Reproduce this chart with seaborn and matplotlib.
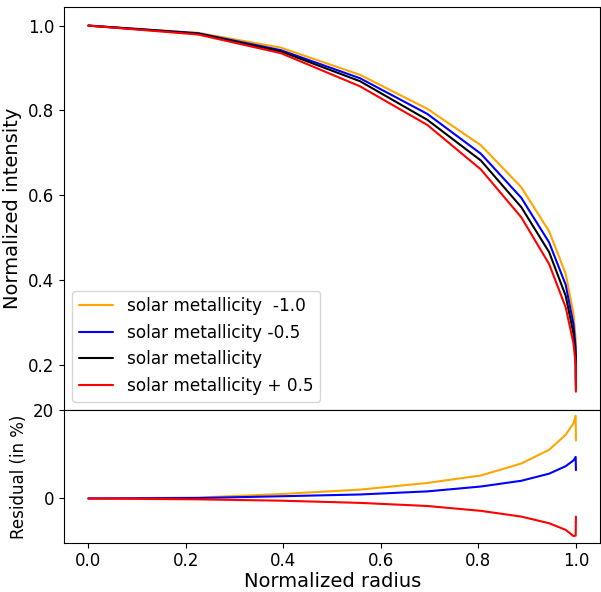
import matplotlib
matplotlib.use("Agg")
import matplotlib.pyplot as plt
import seaborn as sns

# ---- data ----
radius = [0.0, 0.225, 0.395, 0.557, 0.695, 0.805, 0.888, 0.945, 0.979, 0.995, 0.9995, 1.0]

int_m10 = [1.0, 0.983, 0.948, 0.884, 0.804, 0.718, 0.619, 0.515, 0.415, 0.321, 0.261, 0.162]
int_m05 = [1.0, 0.982, 0.942, 0.876, 0.792, 0.698, 0.594, 0.489, 0.389, 0.296, 0.240, 0.152]
int_sol = [1.0, 0.981, 0.939, 0.869, 0.778, 0.682, 0.572, 0.466, 0.363, 0.274, 0.220, 0.143]
int_p05 = [1.0, 0.979, 0.935, 0.857, 0.766, 0.661, 0.548, 0.438, 0.336, 0.251, 0.201, 0.137]

res_m10 = [0.0, 0.2, 1.0, 2.0, 3.5, 5.2, 7.9, 11.0, 14.4, 17.0, 18.7, 13.1]
res_m05 = [0.0, 0.1, 0.5, 0.9, 1.6, 2.7, 4.0, 5.6, 7.3, 8.6, 9.4, 6.4]
res_p05 = [0.0, -0.2, -0.5, -1.0, -1.7, -2.8, -4.1, -5.6, -7.1, -8.5, -8.4, -4.1]

labels = ["solar metallicity  -1.0", "solar metallicity -0.5",
          "solar metallicity", "solar metallicity + 0.5"]
colors = ["orange", "blue", "black", "red"]

sns.set_style("ticks")
plt.rcParams.update({
    "text.color": "black", "axes.labelcolor": "black",
    "xtick.color": "black", "ytick.color": "black",
    "axes.edgecolor": "black",
})

fig = plt.figure(figsize=(6.01, 5.92), dpi=100)
W, H = 601.0, 592.0
ax1 = fig.add_axes([64 / W, 1 - 410 / H, 536.3 / W, 402.7 / H])
ax2 = fig.add_axes([64 / W, 1 - 542.7 / H, 536.3 / W, 132.7 / H], sharex=ax1)

for ys, lab, col in zip([int_m10, int_m05, int_sol, int_p05], labels, colors):
    sns.lineplot(x=radius, y=ys, color=col, label=lab, ax=ax1, linewidth=1.5)

for ys, col in zip([res_m10, res_m05, res_p05], ["orange", "blue", "red"]):
    sns.lineplot(x=radius, y=ys, color=col, ax=ax2, linewidth=1.5)

for ax in (ax1, ax2):
    for s in ax.spines.values():
        s.set_color("black")
        s.set_linewidth(0.8)
    ax.tick_params(labelsize=12, color="black", labelcolor="black",
                   width=0.8, length=3.5)

ax1.set_xlim(-0.05, 1.05)
ax1.tick_params(axis="x", bottom=False, labelbottom=False)
ax1.set_yticks([0.2, 0.4, 0.6, 0.8, 1.0])
ax1.set_ylabel("Normalized intensity", fontsize=14, color="black")
ax1.set_xlabel("")

leg = ax1.legend(loc="lower left", fontsize=12.2)
for t in leg.get_texts():
    t.set_color("black")

ax2.set_ylim(-10, 20)
ax2.set_yticks([0, 20])
ax2.set_xticks([0.0, 0.2, 0.4, 0.6, 0.8, 1.0])
ax2.set_xlabel("Normalized radius", fontsize=14, color="black", labelpad=1)
ax2.set_ylabel("Residual (in %)", fontsize=12, color="black")

fig.savefig("out.png", dpi=100)
